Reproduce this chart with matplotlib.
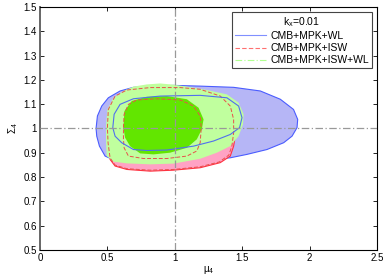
import matplotlib
matplotlib.use("Agg")
import matplotlib.pyplot as plt

plt.rcParams['font.family'] = ['Liberation Sans', 'DejaVu Sans']
plt.rcParams['mathtext.fontset'] = 'custom'
plt.rcParams['mathtext.rm'] = 'Liberation Sans'
plt.rcParams['mathtext.it'] = 'Liberation Sans'

# ---- contour boundaries (mu_4, Sigma_4) ----
wl_outer_x = [0.416, 0.426, 0.458, 0.507, 0.594, 0.693, 0.817, 0.99, 1.188, 1.436, 1.634, 1.782, 1.88, 1.911,
              1.906, 1.869, 1.807, 1.683, 1.535, 1.411, 1.188, 0.941, 0.743, 0.569, 0.483, 0.441, 0.421]
wl_outer_y = [1.0, 1.051, 1.092, 1.126, 1.154, 1.169, 1.174, 1.177, 1.174, 1.169, 1.154, 1.12, 1.078, 1.037,
              1.003, 0.968, 0.941, 0.913, 0.893, 0.879, 0.868, 0.863, 0.861, 0.865, 0.886, 0.927, 0.968]

wl_inner_x = [0.54, 0.55, 0.594, 0.693, 0.891, 1.188, 1.386, 1.473, 1.498, 1.48, 1.411, 1.287, 1.139, 0.941,
              0.792, 0.693, 0.606, 0.557]
wl_inner_y = [1.003, 1.058, 1.099, 1.122, 1.133, 1.136, 1.126, 1.092, 1.044, 1.003, 0.975, 0.948, 0.927, 0.911,
              0.909, 0.913, 0.941, 0.968]

isw_fill_x = [0.515, 0.52, 0.557, 0.644, 0.817, 0.99, 1.188, 1.337, 1.411, 1.436, 1.448, 1.448, 1.436, 1.312,
              0.99, 0.693, 0.557, 0.52]
isw_fill_y = [0.955, 0.872, 0.845, 0.831, 0.824, 0.828, 0.838, 0.859, 0.886, 0.927, 0.968, 1.01, 1.092, 1.133,
              1.147, 1.14, 1.106, 1.037]

isw_outer_x = [0.5, 0.507, 0.557, 0.644, 0.817, 1.04, 1.188, 1.337, 1.411, 1.436, 1.436, 1.423, 1.40, 1.33,
               1.188, 0.99, 0.817, 0.644, 0.557, 0.52, 0.505]
isw_outer_y = [1.003, 1.078, 1.133, 1.158, 1.168, 1.168, 1.161, 1.133, 1.092, 1.037, 0.982, 0.927, 0.89, 0.862,
               0.842, 0.831, 0.828, 0.834, 0.849, 0.878, 0.94]

isw_inner_x = [0.619, 0.624, 0.656, 0.718, 0.866, 1.04, 1.139, 1.188, 1.196, 1.188, 1.163, 1.089, 0.941,
               0.767, 0.656, 0.624, 0.619]
isw_inner_y = [1.003, 1.058, 1.099, 1.117, 1.122, 1.117, 1.092, 1.051, 1.003, 0.941, 0.907, 0.886, 0.876,
               0.876, 0.886, 0.92, 0.955]

all_outer_x = [0.49, 0.49, 0.5, 0.545, 0.619, 0.693, 0.792, 0.891, 0.99, 1.089, 1.238, 1.386, 1.473, 1.51,
               1.505, 1.473, 1.411, 1.312, 1.188, 0.99, 0.817, 0.644, 0.545, 0.495]
all_outer_y = [0.941, 1.01, 1.078, 1.126, 1.154, 1.172, 1.181, 1.185, 1.18, 1.172, 1.158, 1.14, 1.106, 1.058,
               1.016, 0.968, 0.927, 0.9, 0.875, 0.855, 0.852, 0.856, 0.863, 0.886]

all_inner_x = [0.619, 0.626, 0.681, 0.792, 0.941, 1.089, 1.176, 1.213, 1.2, 1.163, 1.089, 0.965, 0.842, 0.743,
               0.668, 0.631]
all_inner_y = [1.003, 1.071, 1.113, 1.13, 1.133, 1.12, 1.085, 1.037, 0.996, 0.955, 0.92, 0.9, 0.893, 0.897,
               0.927, 0.962]

fiducial_mu = 1.0
fiducial_sigma = 1.0
x_ticks = [0, 0.5, 1, 1.5, 2, 2.5]
x_tick_labels = ['0', '0.5', '1', '1.5', '2', '2.5']
y_ticks = [0.5, 0.6, 0.7, 0.8, 0.9, 1.0, 1.1, 1.2, 1.3, 1.4, 1.5]
y_tick_labels = ['0.5', '0.6', '0.7', '0.8', '0.9', '1', '1.1', '1.2', '1.3', '1.4', '1.5']
legend_labels = ['CMB+MPK+WL', 'CMB+MPK+ISW', 'CMB+MPK+ISW+WL']
legend_title = r'k$_x$=0.01'

fig = plt.figure(figsize=(3.88, 2.77), dpi=100)
ax = fig.add_axes([0.103, 0.098, 0.869, 0.877])

ax.fill(wl_outer_x, wl_outer_y, facecolor='#b6b6f6', edgecolor='#4a5cff', lw=0.8, zorder=1)
ax.fill(isw_fill_x, isw_fill_y, facecolor='#ffa2c4', edgecolor='#ff3040', lw=0.8, zorder=2)
ax.fill(all_outer_x, all_outer_y, facecolor='#c0ff9e', edgecolor='none', zorder=3)
ax.fill(all_inner_x, all_inner_y, facecolor='#62e600', edgecolor='none', zorder=4)
ax.fill(isw_outer_x, isw_outer_y, facecolor='none', edgecolor='#e8504a', lw=0.7, ls=(0, (4, 2)), zorder=5)
ax.fill(isw_inner_x, isw_inner_y, facecolor='none', edgecolor='#e8504a', lw=0.7, ls=(0, (4, 2)), zorder=5)
ax.fill(wl_inner_x, wl_inner_y, facecolor='none', edgecolor='#5070ee', lw=0.8, zorder=5)

ax.axvline(fiducial_mu, color='#999999', lw=0.9, ls=(0, (6, 2, 1, 2)), zorder=6)
ax.axhline(fiducial_sigma, color='#999999', lw=0.9, ls=(0, (6, 2, 1, 2)), zorder=6)

ax.set_xlim(0, 2.5)
ax.set_ylim(0.5, 1.5)
ax.set_xticks(x_ticks)
ax.set_xticklabels(x_tick_labels)
ax.set_yticks(y_ticks)
ax.set_yticklabels(y_tick_labels)
ax.tick_params(direction='in', top=True, right=True, labelsize=7, length=3, width=0.6, pad=2)
for s in ax.spines.values():
    s.set_linewidth(0.8)
ax.spines['left'].set_color('#666666')
ax.spines['left'].set_linewidth(1.4)

ax.set_xlabel(r'$\mu_4$', fontsize=7, labelpad=1)
ax.set_ylabel(r'$\Sigma_4$', fontsize=7, labelpad=3)

h1, = ax.plot([], [], color='#8090ff', lw=0.8)
h2, = ax.plot([], [], color='#ff7070', lw=0.8, ls=(0, (4, 2)))
h3, = ax.plot([], [], color='#b0ff90', lw=0.8, ls=(0, (6, 2, 1, 2)))
leg = ax.legend([h1, h2, h3], legend_labels, title=legend_title, loc='upper right',
                fontsize=7.5, title_fontsize=7.5, frameon=True, fancybox=False,
                borderaxespad=0.5, handlelength=3.0, handletextpad=0.4,
                labelspacing=0.2, borderpad=0.3)
leg.get_frame().set_edgecolor('#444444')
leg.get_frame().set_linewidth(0.8)
leg.get_frame().set_alpha(1)

fig.savefig('out.png', dpi=100)
